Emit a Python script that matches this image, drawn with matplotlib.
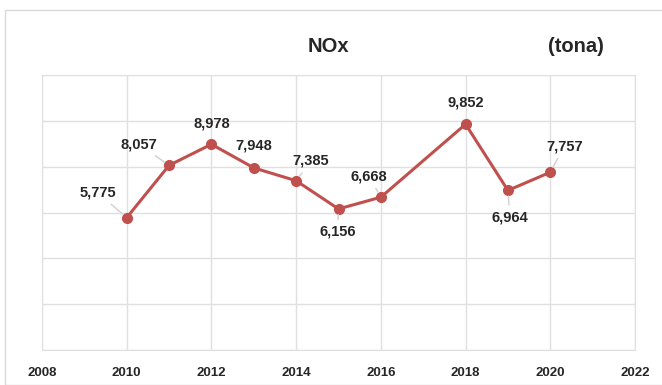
import matplotlib
matplotlib.use('Agg')
import matplotlib.pyplot as plt
from matplotlib.patches import Rectangle

plt.rcParams['font.family'] = ['Liberation Sans', 'DejaVu Sans']

years = [2010, 2011, 2012, 2013, 2014, 2015, 2016, 2018, 2019, 2020]
nox = [5775, 8057, 8978, 7948, 7385, 6156, 6668, 9852, 6964, 7757]
labels = ['5,775', '8,057', '8,978', '7,948', '7,385', '6,156', '6,668', '9,852', '6,964', '7,757']

# label offsets in pixels (dx, dy), and whether a leader line is drawn
offsets = [(-29, 25), (-30, 21), (0, 21), (0, 22), (15, 20), (-1, -23), (-12, 21), (0, 22), (2, -27), (14, 26)]
leaders = [True, True, False, False, True, True, True, False, True, True]

fig = plt.figure(figsize=(6.62, 3.85), dpi=100)
fig.patches.append(Rectangle((5 / 662, 0), 1.0, 1 - 10 / 385, transform=fig.transFigure,
                             fill=False, edgecolor='#d9d9d9', linewidth=1))

ax = fig.add_axes([42 / 662, 35 / 385, (635 - 42) / 662, (350 - 75) / 385])
ax.plot(years, nox, color='#c0504d', linewidth=2.2, marker='o', markersize=7, zorder=3)

for x, y, lab, off, lead in zip(years, nox, labels, offsets, leaders):
    props = dict(arrowstyle='-', color='#d0d0d0', lw=1, shrinkA=2, shrinkB=4) if lead else None
    ax.annotate(lab, (x, y), xytext=off, textcoords='offset pixels', ha='center', va='center',
                fontsize=10.5, fontweight='bold', color='#262626', arrowprops=props)

ax.set_xlim(2008, 2022)
ax.set_ylim(0, 12000)
ax.set_xticks(range(2008, 2023, 2))
ax.set_yticks(range(0, 12001, 2000))
ax.set_yticklabels([])
ax.tick_params(axis='both', length=0)
ax.tick_params(axis='x', pad=12, labelsize=9.5, labelcolor='#262626')
for t in ax.get_xticklabels():
    t.set_fontweight('bold')
ax.grid(True, color='#e0e0e0', linewidth=1)
ax.set_axisbelow(True)
for s in ax.spines.values():
    s.set_color('#e0e0e0')

fig.text(328 / 662, 1 - 46 / 385, 'NOx', ha='center', va='center', fontsize=14.5,
         fontweight='bold', color='#262626')
fig.text(576 / 662, 1 - 46 / 385, '(tona)', ha='center', va='center', fontsize=14.5,
         fontweight='bold', color='#262626')

fig.savefig('out.png', dpi=100)
